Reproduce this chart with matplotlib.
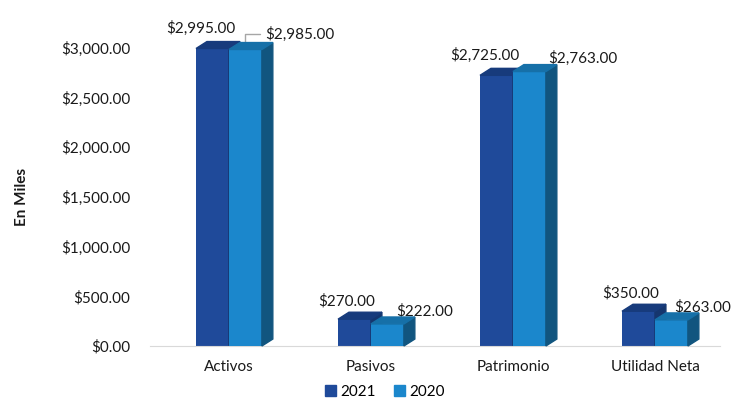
import matplotlib
matplotlib.use("Agg")
import matplotlib.pyplot as plt
from matplotlib.patches import Polygon, Patch
from matplotlib.ticker import FuncFormatter

categories = ["Activos", "Pasivos", "Patrimonio", "Utilidad Neta"]
series_names = ["2021", "2020"]
values_2021 = [2995, 270, 2725, 350]
values_2020 = [2985, 222, 2763, 263]
yticks = [0, 500, 1000, 1500, 2000, 2500, 3000]

plt.rcParams['font.family'] = ['Lato', 'DejaVu Sans']

front = ["#1F4A9A", "#1B87CC"]
topc = ["#173B7C", "#1670A8"]
sidec = ["#15366E", "#11557F"]

fig = plt.figure(figsize=(7.44, 4.01), dpi=100)
ax = fig.add_axes([150/744, 55/401, 570/744, 298/401])
ax.set_xlim(-0.556, 3.458)
ax.set_ylim(0, 3000)

w = 0.232
dx = 0.077
dy = 70
xs = list(range(len(categories)))

for k, vals in enumerate([values_2021, values_2020]):
    offs = -w if k == 0 else 0.0
    bars = ax.bar([x + offs for x in xs], vals, width=w, align='edge',
                  color=front[k], zorder=2 + k * 2, clip_on=False)
    for b in bars:
        x0, h, bw = b.get_x(), b.get_height(), b.get_width()
        ax.add_patch(Polygon([(x0 + bw, 0), (x0 + bw + dx, dy), (x0 + bw + dx, h + dy), (x0 + bw, h)],
                             closed=True, color=sidec[k], zorder=2 + k * 2, clip_on=False))
        ax.add_patch(Polygon([(x0, h), (x0 + bw, h), (x0 + bw + dx, h + dy), (x0 + dx, h + dy)],
                             closed=True, color=topc[k], zorder=3 + k * 2, clip_on=False))

# data labels
off21 = [(-12, 20), (-8, 18), (-12, 20), (-8, 18)]
off20 = [(19, 15), (9, 13), (19, 13), (3, 13)]
for i, v in enumerate(values_2021):
    ax.annotate(f"${v:,.2f}", xy=(i - w / 2, v), xytext=off21[i], textcoords='offset pixels',
                ha='center', va='center', fontsize=11, color='#1a1a1a', annotation_clip=False)
for i, v in enumerate(values_2020):
    xc = i + w / 2
    if i == 0:
        ax.annotate(f"${v:,.2f}", xy=(xc, v), xytext=(off20[i][0] + 1, off20[i][1]), textcoords='offset pixels',
                    ha='left', va='center', fontsize=11, color='#1a1a1a', annotation_clip=False,
                    arrowprops=dict(arrowstyle='-', color='#A6A6A6', lw=1,
                                    connectionstyle='angle,angleA=0,angleB=90,rad=0',
                                    shrinkA=2, shrinkB=0))
    else:
        ax.annotate(f"${v:,.2f}", xy=(xc, v), xytext=off20[i], textcoords='offset pixels',
                    ha='left', va='center', fontsize=11, color='#1a1a1a', annotation_clip=False)

ax.set_yticks(yticks)
ax.yaxis.set_major_formatter(FuncFormatter(lambda v, p: f"${v:,.2f}"))
ax.set_xticks(xs)
ax.set_xticklabels(categories)
ax.tick_params(axis='y', length=0, pad=14, labelsize=11, labelcolor='#1a1a1a')
ax.tick_params(axis='x', length=0, pad=10, labelsize=11, labelcolor='#1a1a1a')
for s in ['top', 'right', 'left']:
    ax.spines[s].set_visible(False)
ax.spines['bottom'].set_color('#D9D9D9')
ax.set_ylabel("En Miles", fontsize=11, fontweight='bold', labelpad=23, color='#1a1a1a')

handles = [Patch(color=front[0], label=series_names[0]), Patch(color=front[1], label=series_names[1])]
fig.legend(handles=handles, loc='center', bbox_to_anchor=(385/744, 1 - 392/401), ncol=2, frameon=False,
           fontsize=11, handlelength=0.7, handleheight=0.7, handletextpad=0.3, columnspacing=1.2)

fig.savefig("out.png", dpi=100)
